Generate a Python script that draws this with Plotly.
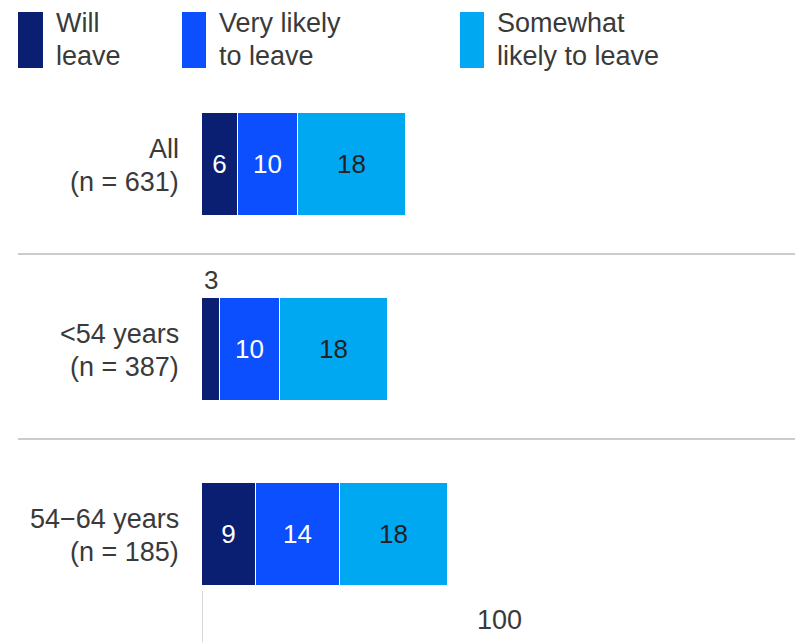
import plotly.graph_objects as go

# Survey groups and share of respondents (%) by intention to leave
groups = [["All", "(n = 631)"], ["<54 years", "(n = 387)"], ["54\u221264 years", "(n = 185)"]]
series_names = [["Will", "leave"], ["Very likely", "to leave"], ["Somewhat", "likely to leave"]]
will_leave = [6, 3, 9]
very_likely = [10, 10, 14]
somewhat_likely = [18, 18, 18]
scale_label = "100"

colors = ["#0A1F72", "#0B4FFF", "#00A8F2"]
text_colors = ["white", "white", "#222222"]
series_values = [will_leave, very_likely, somewhat_likely]

FONT = "Liberation Sans, Arial, sans-serif"
TEXT = "#3a3a3a"
W, H = 795, 642
L, T = 202, 72
plot_w, plot_h = W - L, H - T
px_per_unit = 6.0
px_per_row = 185.0
line_gap = 33


def px_x(x):
    return (x - L) / plot_w


def px_y(y):
    return 1 - (y - T) / plot_h


fig = go.Figure()
ypos = list(range(len(groups)))
for name, vals, col, tcol in zip(series_names, series_values, colors, text_colors):
    fig.add_trace(go.Bar(
        y=ypos, x=vals, orientation="h", name=" ".join(name),
        marker=dict(color=col, line=dict(color="white", width=1.2)),
        text=[str(v) if v >= 5 else "" for v in vals],
        textposition="inside", insidetextanchor="middle",
        textfont=dict(color=tcol, size=26, family=FONT),
        width=0.557, showlegend=False, hoverinfo="skip",
    ))

# Values too small to label inside their segment go just above the bar
for i, v in enumerate(will_leave):
    if v < 5:
        fig.add_annotation(x=v / 2, y=i - 0.557 / 2, text=str(v), showarrow=False,
                           yanchor="bottom", yshift=1,
                           font=dict(size=26, color=TEXT))

# Group labels, two right-aligned lines beside each bar
for i, lines in enumerate(groups):
    for k, line in enumerate(lines):
        fig.add_annotation(x=0, y=i, text=line, showarrow=False,
                           xanchor="right", yanchor="middle", xshift=-21,
                           yshift=(0.5 - k) * line_gap - 1,
                           font=dict(size=27, color=TEXT))

# Custom legend: tall swatches with two-line labels
legend_boxes = [(18, 43, 54), (182, 206, 217), (460, 484, 495)]
for (x0, x1, tx), name, col in zip(legend_boxes, series_names, colors):
    fig.add_shape(type="rect", xref="paper", yref="paper",
                  x0=px_x(x0), x1=px_x(x1), y0=px_y(68), y1=px_y(12),
                  fillcolor=col, line=dict(width=0))
    for k, line in enumerate(name):
        fig.add_annotation(xref="paper", yref="paper", x=px_x(tx), y=px_y(23 + k * line_gap),
                           text=line, showarrow=False, xanchor="left", yanchor="middle",
                           font=dict(size=27, color=TEXT))

# Group separators
for yv in [0.484, 1.484]:
    fig.add_shape(type="line", xref="paper", yref="y", x0=px_x(18), x1=1,
                  y0=yv, y1=yv, line=dict(color="#cccccc", width=2))

# Baseline stub and scale label
fig.add_shape(type="line", xref="x", yref="y", x0=0, x1=0, y0=2.305, y1=2.6,
              line=dict(color="#cccccc", width=1.5))
fig.add_annotation(x=49.5, y=2.46, text=scale_label, showarrow=False,
                   font=dict(size=27, color=TEXT))

fig.update_layout(
    width=W, height=H, barmode="stack", bargap=0,
    margin=dict(l=L, r=0, t=T, b=0),
    plot_bgcolor="white", paper_bgcolor="white",
    font=dict(family=FONT, size=27, color=TEXT),
    xaxis=dict(range=[0, plot_w / px_per_unit], visible=False, fixedrange=True),
    yaxis=dict(range=[-0.5 + plot_h / px_per_row, -0.5], visible=False, fixedrange=True),
)

fig.write_html("out.html")
